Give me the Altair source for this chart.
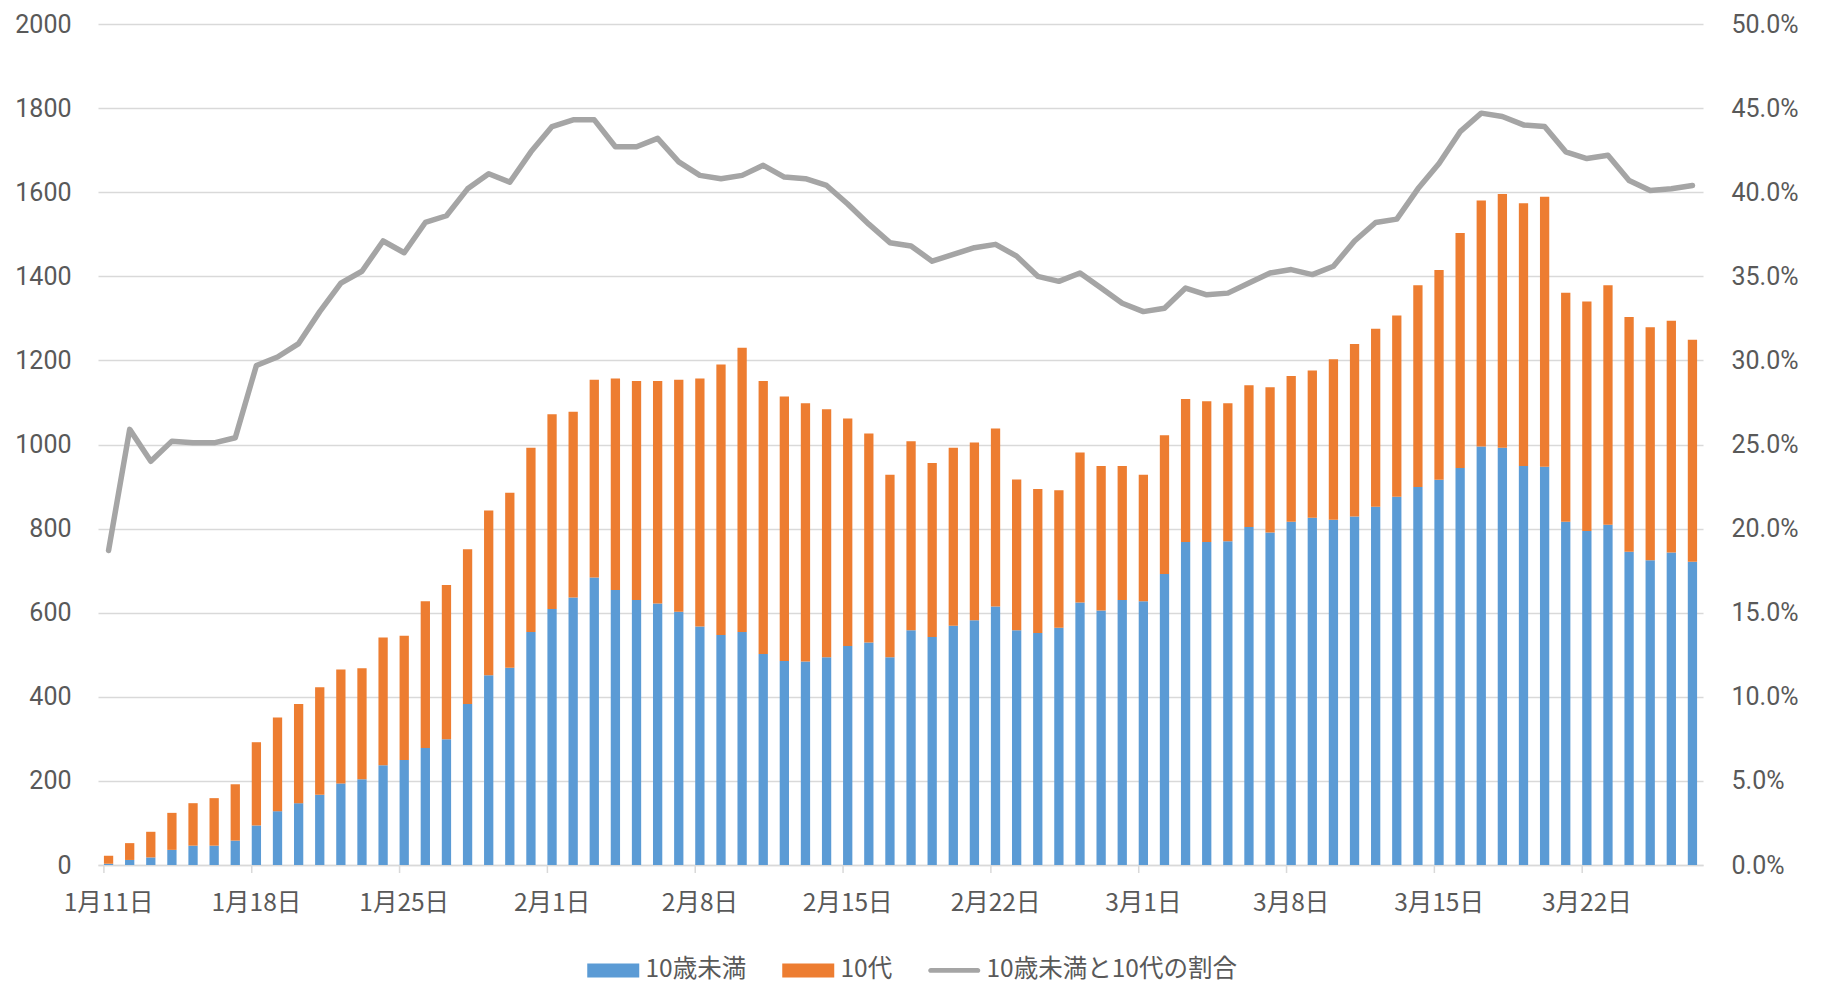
import altair as alt
import pandas as pd

dates = [
    "1月11日", "1月12日", "1月13日", "1月14日", "1月15日", "1月16日", "1月17日",
    "1月18日", "1月19日", "1月20日", "1月21日", "1月22日", "1月23日", "1月24日",
    "1月25日", "1月26日", "1月27日", "1月28日", "1月29日", "1月30日", "1月31日",
    "2月1日", "2月2日", "2月3日", "2月4日", "2月5日", "2月6日", "2月7日",
    "2月8日", "2月9日", "2月10日", "2月11日", "2月12日", "2月13日", "2月14日",
    "2月15日", "2月16日", "2月17日", "2月18日", "2月19日", "2月20日", "2月21日",
    "2月22日", "2月23日", "2月24日", "2月25日", "2月26日", "2月27日", "2月28日",
    "3月1日", "3月2日", "3月3日", "3月4日", "3月5日", "3月6日", "3月7日",
    "3月8日", "3月9日", "3月10日", "3月11日", "3月12日", "3月13日", "3月14日",
    "3月15日", "3月16日", "3月17日", "3月18日", "3月19日", "3月20日", "3月21日",
    "3月22日", "3月23日", "3月24日", "3月25日", "3月26日", "3月27日",
]

under10 = [
    3, 12, 18, 36, 46, 46, 58,
    94, 128, 147, 167, 194, 204, 237,
    250, 278, 299, 383, 451, 469, 554,
    609, 636, 684, 654, 630, 622, 602,
    567, 547, 554, 502, 485, 484, 494,
    521, 529, 494, 558, 542, 569, 582,
    615, 558, 552, 564, 624, 605, 630,
    627, 692, 768, 768, 770, 804, 791,
    816, 826, 821, 829, 852, 876, 899,
    916, 944, 995, 992, 949, 947, 816,
    794, 809, 745, 725, 743, 721,
]

teens = [
    19, 40, 61, 88, 101, 113, 134,
    198, 223, 236, 256, 271, 264, 304,
    295, 349, 367, 368, 392, 416, 438,
    463, 442, 470, 503, 521, 529, 552,
    590, 643, 676, 649, 629, 614, 590,
    541, 497, 434, 450, 414, 423, 423,
    423, 359, 342, 327, 357, 344, 319,
    301, 330, 340, 335, 328, 337, 345,
    347, 350, 382, 410, 423, 431, 480,
    499, 559, 585, 604, 625, 642, 545,
    546, 570, 558, 554, 551, 528,
]

ratio_pct = [
    18.7, 25.9, 24.0, 25.2, 25.1, 25.1, 25.4,
    29.7, 30.2, 31.0, 32.9, 34.6, 35.3, 37.1,
    36.4, 38.2, 38.6, 40.2, 41.1, 40.6, 42.4,
    43.9, 44.3, 44.3, 42.7, 42.7, 43.2, 41.8,
    41.0, 40.8, 41.0, 41.6, 40.9, 40.8, 40.4,
    39.3, 38.1, 37.0, 36.8, 35.9, 36.3, 36.7,
    36.9, 36.2, 35.0, 34.7, 35.2, 34.3, 33.4,
    32.9, 33.1, 34.3, 33.9, 34.0, 34.6, 35.2,
    35.4, 35.1, 35.6, 37.1, 38.2, 38.4, 40.2,
    41.7, 43.6, 44.7, 44.5, 44.0, 43.9, 42.4,
    42.0, 42.2, 40.7, 40.1, 40.2, 40.4,
]

tick_dates = ["1月11日", "1月18日", "1月25日", "2月1日", "2月8日", "2月15日",
              "2月22日", "3月1日", "3月8日", "3月15日", "3月22日"]

series_names = ["10歳未満", "10代", "10歳未満と10代の割合"]
series_colors = ["#5B9BD5", "#ED7D31", "#A5A5A5"]

left_ticks = [0, 200, 400, 600, 800, 1000, 1200, 1400, 1600, 1800, 2000]
right_ticks = [0, 5, 10, 15, 20, 25, 30, 35, 40, 45, 50]

FONT = "Noto Sans CJK JP"
NUMFONT = "Roboto"
TXT = "#595959"
GRID = "#D9D9D9"
FS = 24.5
W, H = 1605, 841

# ---- tables ----
bar_rows = []
for i, d in enumerate(dates):
    bar_rows.append({"date": d, "series": series_names[0], "value": under10[i], "ord": 0})
    bar_rows.append({"date": d, "series": series_names[1], "value": teens[i], "ord": 1})
bar_df = pd.DataFrame(bar_rows)
line_df = pd.DataFrame({"date": dates, "ratio": ratio_pct})
tick_df = pd.DataFrame({"date": tick_dates})
legend_df = pd.DataFrame({"lg": series_names})

x_axis = alt.Axis(values=tick_dates, labelAngle=0, ticks=False, grid=False, title=None,
                  domainColor=GRID, domainWidth=1.5, labelPadding=26,
                  labelFontSize=FS, labelColor=TXT, labelFont=FONT)
x_scale = alt.Scale(paddingInner=0.56, paddingOuter=0.28)


def xenc(**kw):
    return alt.X("date:N", sort=dates, scale=x_scale, axis=x_axis, **kw)


bars = alt.Chart(bar_df).mark_bar().encode(
    x=xenc(),
    y=alt.Y("value:Q", stack="zero",
            scale=alt.Scale(domain=[0, 2000], nice=False),
            axis=alt.Axis(values=left_ticks, format="d", title=None, grid=True,
                          gridColor=GRID, gridWidth=1.3, domain=False, ticks=False,
                          tickSize=0, labelPadding=27, labelFontSize=25,
                          labelColor=TXT, labelFont=NUMFONT)),
    color=alt.Color("series:N",
                    scale=alt.Scale(domain=series_names[:2], range=series_colors[:2]),
                    legend=None),
    order=alt.Order("ord:Q", sort="ascending"),
)

line = alt.Chart(line_df).mark_line(
    color=series_colors[2], strokeWidth=5.5, strokeCap="round", strokeJoin="round"
).encode(
    x=xenc(),
    y=alt.Y("ratio:Q", scale=alt.Scale(domain=[0, 50], nice=False),
            axis=alt.Axis(orient="right", values=right_ticks, title=None, grid=False,
                          domain=False, ticks=False, tickSize=0, labelPadding=28,
                          labelFontSize=25, labelColor=TXT, labelFont=NUMFONT,
                          labelExpr="format(datum.value, '.1f') + '%'")),
)

ticks = alt.Chart(tick_df).mark_rule(color=GRID, strokeWidth=1.5).encode(
    x=xenc(bandPosition=0),
    y=alt.value(H),
    y2=alt.value(H + 8),
)

rect_path = "M-3.714,-1H3.714V1H-3.714Z"
line_path = ("M-3.357,-0.357H3.357A0.357,0.357,0,0,1,3.357,0.357"
             "H-3.357A0.357,0.357,0,0,1,-3.357,-0.357Z")

leg = alt.Legend(orient="none", legendX=503, legendY=934, direction="horizontal",
                 columns=3, title=None, labelFontSize=FS, labelColor=TXT,
                 labelFont=FONT, labelLimit=600, labelOffset=20, columnPadding=35,
                 symbolSize=196, symbolStrokeWidth=0, padding=0)

legend_layer = alt.Chart(legend_df).transform_filter("false").mark_point(
    filled=True, size=196, opacity=1
).encode(
    color=alt.Color("lg:N", scale=alt.Scale(domain=series_names, range=series_colors),
                    legend=leg),
    shape=alt.Shape("lg:N", scale=alt.Scale(domain=series_names,
                                            range=[rect_path, rect_path, line_path]),
                    legend=leg),
)

chart = alt.layer(bars, line, ticks, legend_layer).resolve_scale(
    y="independent", color="independent", shape="independent"
).properties(
    width=W, height=H,
    padding={"left": 90, "top": 16, "right": 108, "bottom": 118},
    autosize=alt.AutoSizeParams(type="none"),
).configure(font=FONT).configure_view(stroke=None)

chart.save("out.html", embed_options={"renderer": "svg", "actions": False})
